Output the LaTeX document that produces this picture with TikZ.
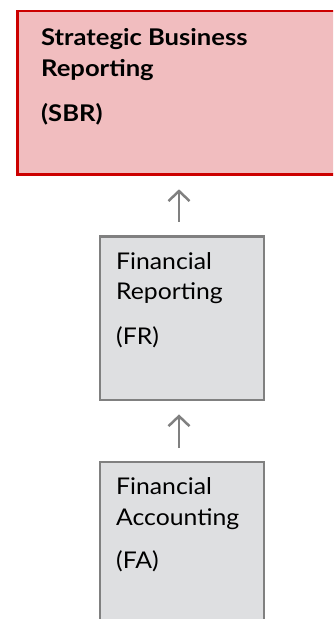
\documentclass[tikz,border=0pt]{standalone}
\usepackage{fontspec}
\setmainfont{Lato}[FakeStretch=1.076, BoldFeatures={FakeStretch=1.113}]
\usetikzlibrary{arrows.meta}
\definecolor{sbrfill}{HTML}{F1BDBF}
\definecolor{sbrline}{HTML}{CC0000}
\definecolor{boxfill}{HTML}{DEDFE1}
\definecolor{boxline}{HTML}{808080}
\begin{document}
\begin{tikzpicture}[x=1pt,y=-1pt,
  redbox/.style={draw=sbrline, fill=sbrfill, line width=2.6pt, rectangle, inner sep=0pt, anchor=north west},
  graybox/.style={draw=boxline, fill=boxfill, line width=2.6pt, rectangle, inner sep=0pt, anchor=north west},
  txt/.style={anchor=base west, inner sep=0pt, font=\fontsize{23}{27}\selectfont},
  btxt/.style={anchor=base west, inner sep=0pt, font=\fontsize{23}{27}\selectfont\bfseries},
  conn/.style={draw=boxline, line width=2.5pt, -{Straight Barb[length=10pt,width=21pt]}}]
\useasboundingbox (0,0) rectangle (333,619);
\clip (0,0) rectangle (333,619);
\node[redbox, minimum width=340pt, minimum height=163.2pt] (sbr) at (16,9.8) {};
\node[graybox, minimum width=164pt, minimum height=163.5pt] (fr) at (98.7,235.3) {};
\node[graybox, minimum width=164pt, minimum height=200pt] (fa) at (98.7,460.7) {};
\node[btxt] (sbr1) at (41,45) {Strategic Business};
\node[btxt] (sbr2) at (41,76) {Reporting};
\node[btxt] (sbr3) at (41,121) {(SBR)};
\node[txt] (fr1) at (116,269.5) {Financial};
\node[txt] (fr2) at (116,299.5) {Reporting};
\node[txt] (fr3) at (116,344) {(FR)};
\node[txt] (fa1) at (116,494.3) {Financial};
\node[txt] (fa2) at (116,525) {Accounting};
\node[txt] (fa3) at (116,568) {(FA)};
\draw[conn, shorten <=13.6pt, shorten >=13.7pt] ([xshift=-3pt]fr.north) -- ([xshift=-3pt]sbr.south -| fr.north);
\draw[conn, shorten <=12.7pt, shorten >=13pt] ([xshift=-3pt]fa.north) -- ([xshift=-3pt]fr.south);
\end{tikzpicture}
\end{document}
